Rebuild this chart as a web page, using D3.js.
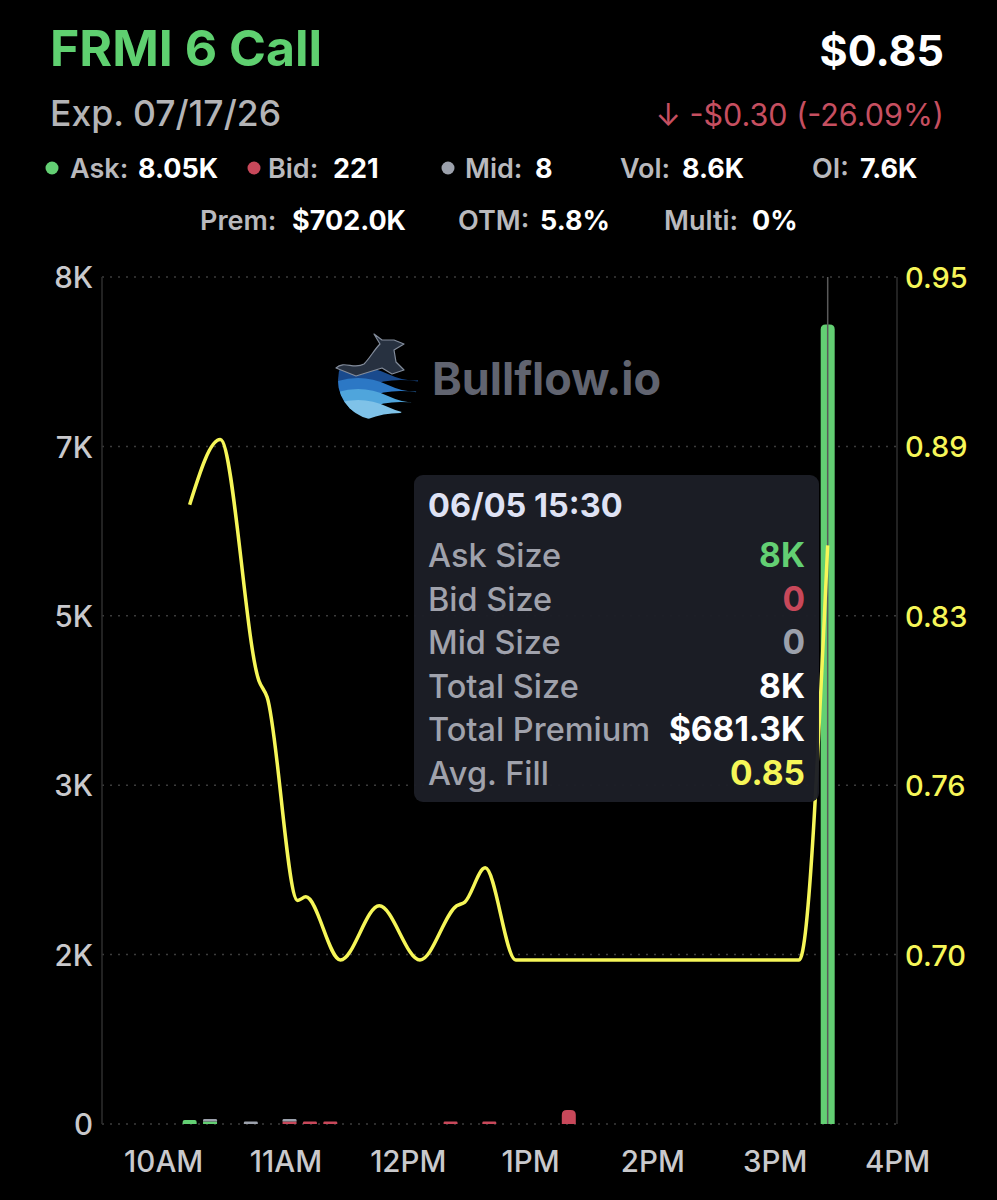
<!DOCTYPE html>
<html>
<head>
<meta charset="utf-8">
<script src="https://cdn.jsdelivr.net/npm/d3@7"></script>
<style>
  html, body { margin: 0; padding: 0; background: #000; }
  svg { display: block; font-family: Inter, "Noto Sans", sans-serif; }
</style>
</head>
<body>
<svg id="chart" width="997" height="1200"></svg>
<script>
// ---------------- DATA ----------------
const title = "FRMI 6 Call";
const lastPrice = "$0.85";
const expiry = "Exp. 07/17/26";
const change = "↓ -$0.30 (-26.09%)";

const statsRow1 = [
  { label: "Ask:", value: "8.05K", dot: "ask" },
  { label: "Bid:", value: "221", dot: "bid" },
  { label: "Mid:", value: "8", dot: "mid" },
  { label: "Vol:", value: "8.6K", dot: null },
  { label: "OI:", value: "7.6K", dot: null }
];
const statsRow2 = [
  { label: "Prem:", value: "$702.0K" },
  { label: "OTM:", value: "5.8%" },
  { label: "Multi:", value: "0%" }
];

// size bars (10-minute buckets)
const barTimes = ["10:13", "10:23", "10:43", "11:02", "11:12", "11:22", "12:21", "12:40", "13:19", "15:26"];
const askSizes = [40, 12, 0, 0, 0, 0, 0, 0, 0, 7930];
const bidSizes = [0, 0, 0, 12, 18, 18, 15, 18, 140, 0];
const midSizes = [0, 3, 3, 2, 0, 0, 0, 0, 0, 0];

// average fill price line
const fillTimes = ["10:13", "10:28", "10:47", "10:51", "11:06", "11:10", "11:27", "11:46", "12:06", "12:24", "12:28", "12:38", "12:53", "15:12", "15:26"];
const fillPrices = [0.866, 0.890, 0.801, 0.795, 0.720, 0.7213, 0.698, 0.718, 0.698, 0.718, 0.7194, 0.732, 0.698, 0.698, 0.851];

// axes
const xTickTimes = ["10:00", "11:00", "12:00", "13:00", "14:00", "15:00", "16:00"];
const xTickLabels = ["10AM", "11AM", "12PM", "1PM", "2PM", "3PM", "4PM"];
const sizeDomain = [0, 8400];
const sizeTicks = [0, 1680, 3360, 5040, 6720, 8400];
const sizeTickLabels = ["0", "2K", "3K", "5K", "7K", "8K"];
const priceDomain = [0.6375, 0.95];
const priceTicks = [0.70, 0.7625, 0.825, 0.8875, 0.95];
const priceTickLabels = ["0.70", "0.76", "0.83", "0.89", "0.95"];

// tooltip
const tipTitle = "06/05 15:30";
const tipLabels = ["Ask Size", "Bid Size", "Mid Size", "Total Size", "Total Premium", "Avg. Fill"];
const tipValues = ["8K", "0", "0", "8K", "$681.3K", "0.85"];
const tipKinds = ["ask", "bid", "mid", "total", "total", "fill"];

const watermark = "Bullflow.io";

// ---------------- STYLE ----------------
const C = {
  ask: "#63cf73", bid: "#c8485a", mid: "#9ca1ac",
  fill: "#f6f658", title: "#5fd070", white: "#ffffff",
  label: "#b9b9bd", axis: "#c9c9cc", grid: "#3c3c3c",
  change: "#c64f60", total: "#ffffff"
};

const svg = d3.select("#chart");
const parse = d3.timeParse("%H:%M");

// ---------------- HEADER ----------------
svg.append("text").attr("x", 50).attr("y", 66).attr("fill", C.title)
  .attr("font-size", 50).attr("font-weight", 700).text(title);
svg.append("text").attr("x", 944).attr("y", 66).attr("text-anchor", "end").attr("fill", C.white)
  .attr("font-size", 43).attr("font-weight", 700).text(lastPrice);
svg.append("text").attr("x", 50).attr("y", 126).attr("fill", "#b4b4b6")
  .attr("font-size", 35.5).attr("font-weight", 500).text(expiry);
svg.append("text").attr("x", 944).attr("y", 126).attr("text-anchor", "end").attr("fill", C.change)
  .attr("font-size", 30.5).attr("font-weight", 400).text(change);

const row1X = [[70, 138], [268, 333], [465, 535], [620, 682], [812, 860]];
const dotX = { ask: 52, bid: 254, mid: 448 };
statsRow1.forEach((s, i) => {
  if (s.dot) svg.append("circle").attr("cx", dotX[s.dot]).attr("cy", 168).attr("r", 6.5).attr("fill", C[s.dot]);
  svg.append("text").attr("x", row1X[i][0]).attr("y", 178).attr("fill", C.label)
    .attr("font-size", 27).attr("font-weight", 600).text(s.label);
  svg.append("text").attr("x", row1X[i][1]).attr("y", 178).attr("fill", C.white)
    .attr("font-size", 27).attr("font-weight", 700).text(s.value);
});
const row2X = [[200, 292], [458, 540], [664, 752]];
statsRow2.forEach((s, i) => {
  svg.append("text").attr("x", row2X[i][0]).attr("y", 230).attr("fill", C.label)
    .attr("font-size", 27).attr("font-weight", 600).text(s.label);
  svg.append("text").attr("x", row2X[i][1]).attr("y", 230).attr("fill", C.white)
    .attr("font-size", 27).attr("font-weight", 700).text(s.value);
});

// ---------------- SCALES ----------------
const L = 102, R = 897, T = 277, B = 1124;
const x = d3.scaleTime().domain([parse("09:30"), parse("16:00")]).range([L, R]);
const yS = d3.scaleLinear().domain(sizeDomain).range([B, T]);
const yP = d3.scaleLinear().domain(priceDomain).range([B, T]);

// grid (dotted)
svg.append("g").selectAll("line").data(sizeTicks).join("line")
  .attr("x1", L).attr("x2", R).attr("y1", d => yS(d)).attr("y2", d => yS(d))
  .attr("stroke", C.grid).attr("stroke-width", 1.5).attr("stroke-dasharray", "2,6");

// vertical axis lines
svg.append("line").attr("x1", L).attr("x2", L).attr("y1", T).attr("y2", B).attr("stroke", "#2e2e2e").attr("stroke-width", 1.5);
svg.append("line").attr("x1", R).attr("x2", R).attr("y1", T).attr("y2", B).attr("stroke", "#2e2e2e").attr("stroke-width", 1.5);

// left axis
const gl = svg.append("g").attr("transform", `translate(${L - 9},0)`)
  .call(d3.axisLeft(yS).tickValues(sizeTicks).tickFormat((d, i) => sizeTickLabels[i]).tickSize(0).tickPadding(0));
gl.select(".domain").remove();
gl.selectAll("text").attr("fill", C.axis).attr("font-size", 29.5).attr("font-weight", 500)
  .attr("font-family", "Inter, sans-serif").attr("dy", "0.36em");

// right axis
const gr = svg.append("g").attr("transform", `translate(${R + 8},0)`)
  .call(d3.axisRight(yP).tickValues(priceTicks).tickFormat((d, i) => priceTickLabels[i]).tickSize(0).tickPadding(0));
gr.select(".domain").remove();
gr.selectAll("text").attr("fill", C.fill).attr("font-size", 29).attr("font-weight", 500)
  .attr("font-family", "Inter, sans-serif").attr("dy", "0.36em");

// bottom axis
const gb = svg.append("g").attr("transform", `translate(0,${B + 27})`)
  .call(d3.axisBottom(x).tickValues(xTickTimes.map(parse)).tickFormat((d, i) => xTickLabels[i]).tickSize(0).tickPadding(0));
gb.select(".domain").remove();
gb.selectAll("text").attr("fill", C.axis).attr("font-size", 29.5).attr("font-weight", 500)
  .attr("font-family", "Inter, sans-serif").attr("dy", "0.71em");

// ---------------- WATERMARK ----------------
const wm = svg.append("g").attr("opacity", 0.95);
const cx0 = 378, cy0 = 380;
const defs = svg.append("defs");
defs.append("clipPath").attr("id", "logoClip").append("circle").attr("cx", cx0).attr("cy", cy0).attr("r", 40);
const waves = wm.append("g").attr("clip-path", "url(#logoClip)");
[["#1b4f95", 0], ["#2f7fd0", 11], ["#54aee8", 22], ["#86cdf5", 33]].forEach(([col, off]) => {
  waves.append("path")
    .attr("d", `M${cx0 - 50},${cy0 + off - 6} Q${cx0 - 20},${cy0 + off - 20} ${cx0 + 10},${cy0 + off - 6} T${cx0 + 60},${cy0 + off - 8} L${cx0 + 60},${cy0 + off + 6} Q${cx0 + 20},${cy0 + off - 6} ${cx0 - 10},${cy0 + off + 6} T${cx0 - 50},${cy0 + off + 5} Z`)
    .attr("fill", col);
});
// bull silhouette
wm.append("path")
  .attr("d", `M${cx0 - 42},${cy0 - 12} C${cx0 - 34},${cy0 - 20} ${cx0 - 24},${cy0 - 10} ${cx0 - 14},${cy0 - 16} C${cx0 - 8},${cy0 - 22} ${cx0 - 4},${cy0 - 30} ${cx0 + 2},${cy0 - 36} L${cx0 - 4},${cy0 - 46} L${cx0 + 4},${cy0 - 40} L${cx0 + 16},${cy0 - 40} L${cx0 + 26},${cy0 - 36} L${cx0 + 16},${cy0 - 30} L${cx0 + 18},${cy0 - 18} L${cx0 + 26},${cy0 - 10} L${cx0 + 14},${cy0 - 6} L${cx0 + 4},${cy0 - 12} L${cx0 - 22},${cy0 - 4} Z`)
  .attr("fill", "#2a3444").attr("stroke", "#8a94a4").attr("stroke-width", 1.2).attr("stroke-linejoin", "round");
wm.append("text").attr("x", 432).attr("y", 395).attr("fill", "#676a76")
  .attr("font-size", 45).attr("font-weight", 700).text(watermark);

// ---------------- BARS ----------------
const barData = barTimes.map((t, i) => ({ t: parse(t), ask: askSizes[i], bid: bidSizes[i], mid: midSizes[i] }));
const bw = 14;
function roundTopRect(x0, y0, w, h, r) {
  r = Math.min(r, h / 2, w / 2);
  return `M${x0},${y0 + h} L${x0},${y0 + r} Q${x0},${y0} ${x0 + r},${y0} L${x0 + w - r},${y0} Q${x0 + w},${y0} ${x0 + w},${y0 + r} L${x0 + w},${y0 + h} Z`;
}
const barG = svg.append("g");
barData.forEach(d => {
  let base = B;
  const segs = ["ask", "bid", "mid"].filter(k => d[k] > 0);
  segs.forEach((k, j) => {
    const h = Math.max(B - yS(d[k]), 2.5);
    const top = j === segs.length - 1;
    barG.append("path")
      .attr("d", top ? roundTopRect(x(d.t) - bw / 2, base - h, bw, h, 5) : `M${x(d.t) - bw / 2},${base - h}h${bw}v${h}h${-bw}Z`)
      .attr("fill", C[k]);
    base -= h;
  });
});

// crosshair
const hoverT = parse(barTimes[barTimes.length - 1]);
svg.append("line").attr("x1", x(hoverT)).attr("x2", x(hoverT)).attr("y1", T).attr("y2", B)
  .attr("stroke", "#5a5a5a").attr("stroke-width", 1.5);

// ---------------- LINE ----------------
const lineData = fillTimes.map((t, i) => ({ t: parse(t), v: fillPrices[i] }));
svg.append("path").datum(lineData)
  .attr("d", d3.line().x(d => x(d.t)).y(d => yP(d.v)).curve(d3.curveMonotoneX))
  .attr("fill", "none").attr("stroke", C.fill).attr("stroke-width", 3.5).attr("stroke-linejoin", "round");

// ---------------- TOOLTIP ----------------
const tip = svg.append("g");
tip.append("rect").attr("x", 414).attr("y", 475).attr("width", 405).attr("height", 327).attr("rx", 9)
  .attr("fill", "#1c1e26").attr("opacity", 0.97);
tip.append("text").attr("x", 428).attr("y", 517).attr("fill", "#dfe2f4")
  .attr("font-size", 32.5).attr("font-weight", 700).text(tipTitle);
const tipColor = { ask: C.ask, bid: C.bid, mid: C.mid, total: C.white, fill: C.fill };
tipLabels.forEach((lab, i) => {
  const yy = 567 + i * 43.6;
  tip.append("text").attr("x", 428).attr("y", yy).attr("fill", "#a0a2ac")
    .attr("font-size", 32.5).attr("font-weight", 500).text(lab);
  tip.append("text").attr("x", 805).attr("y", yy).attr("text-anchor", "end").attr("fill", tipColor[tipKinds[i]])
    .attr("font-size", 33.5).attr("font-weight", 700).text(tipValues[i]);
});
</script>
</body>
</html>
